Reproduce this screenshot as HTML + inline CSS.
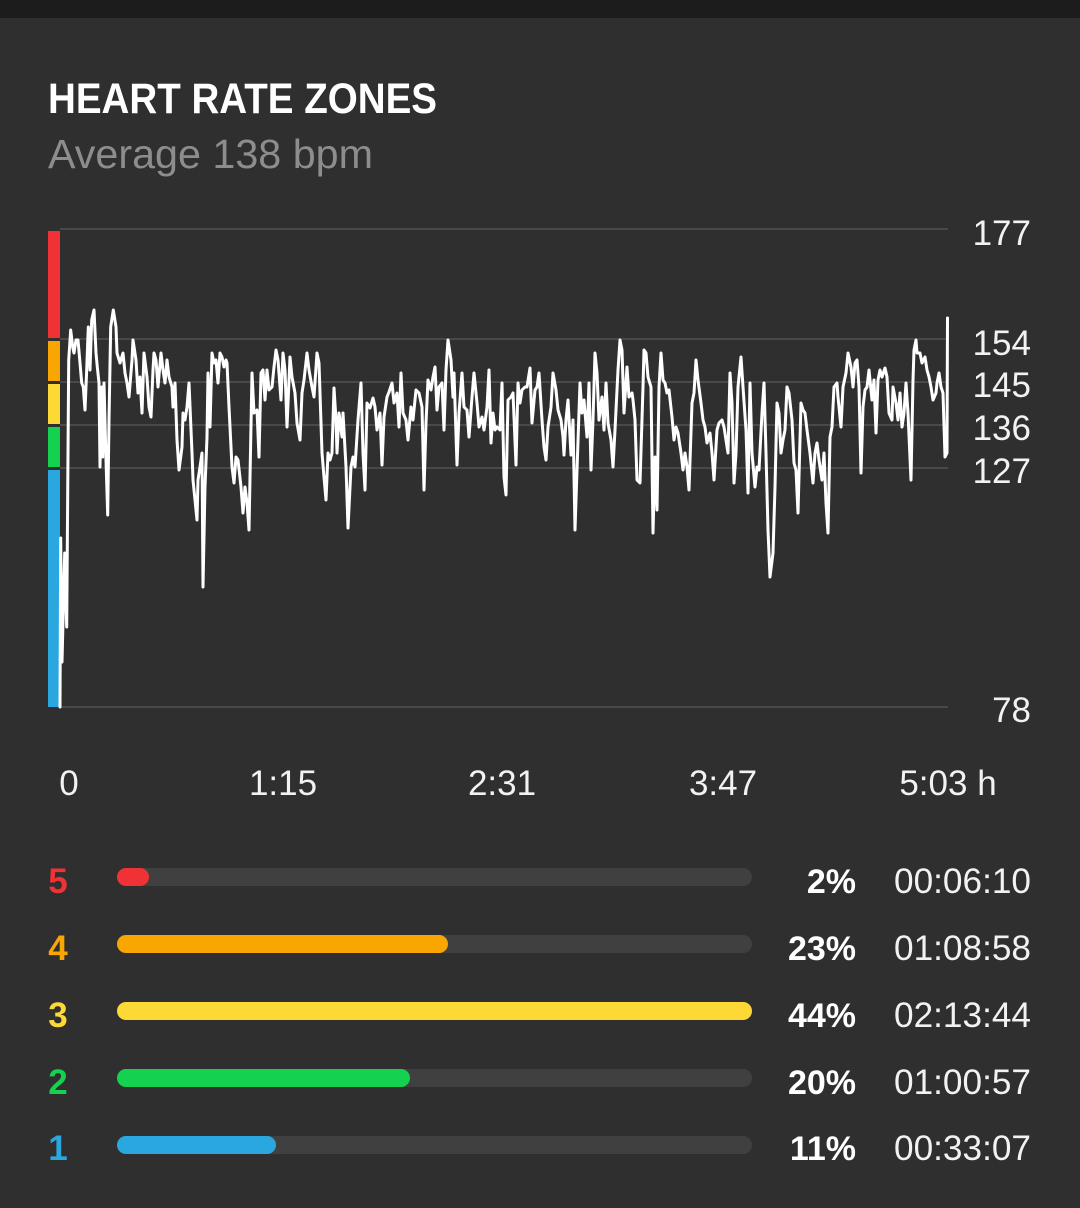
<!DOCTYPE html>
<html>
<head>
<meta charset="utf-8">
<style>
  html, body { margin: 0; padding: 0; background: #2f2f2f; }
  body { width: 1080px; height: 1208px; overflow: hidden; }
  svg { display: block; }
  text { font-family: "Liberation Sans", Arial, sans-serif; }
</style>
</head>
<body>
<svg width="1080" height="1208" viewBox="0 0 1080 1208" xmlns="http://www.w3.org/2000/svg">
  <rect x="0" y="0" width="1080" height="1208" fill="#2f2f2f"/>
  <rect x="0" y="0" width="1080" height="18" fill="#1c1c1c"/>

  <!-- Title -->
  <text x="48" y="113" font-size="43" font-weight="bold" fill="#ffffff" textLength="389" lengthAdjust="spacingAndGlyphs">HEART RATE ZONES</text>
  <text x="48" y="168" font-size="41" fill="#8d8d8d" textLength="325" lengthAdjust="spacingAndGlyphs">Average 138 bpm</text>

  <!-- Grid lines -->
  <g stroke="#494949" stroke-width="2">
    <line x1="60" y1="229" x2="948" y2="229"/>
    <line x1="60" y1="339" x2="948" y2="339"/>
    <line x1="60" y1="382" x2="948" y2="382"/>
    <line x1="60" y1="425" x2="948" y2="425"/>
    <line x1="60" y1="468" x2="948" y2="468"/>
    <line x1="60" y1="707" x2="948" y2="707"/>
  </g>

  <!-- Zone color bar -->
  <rect x="48" y="231" width="12" height="107" fill="#f03236"/>
  <rect x="48" y="341" width="12" height="40" fill="#f9a603"/>
  <rect x="48" y="384" width="12" height="40" fill="#fcd934"/>
  <rect x="48" y="427" width="12" height="40" fill="#14d250"/>
  <rect x="48" y="470" width="12" height="237" fill="#2aa7df"/>

  <!-- Y labels -->
  <g font-size="35" fill="#f2f2f2" text-anchor="end">
    <text x="1031" y="245">177</text>
    <text x="1031" y="355">154</text>
    <text x="1031" y="397">145</text>
    <text x="1031" y="440">136</text>
    <text x="1031" y="483">127</text>
    <text x="1031" y="722">78</text>
  </g>

  <!-- HR trace -->
  <polyline fill="none" stroke="#ffffff" stroke-width="3" stroke-linejoin="round" stroke-linecap="round"
    points="60,707 60.7,538 62,662 64.7,553 66.7,627 68.7,360 70.7,330 72.7,347 74,353 76,340 78,340 80,363 81.7,383 83.3,387 85,410 86.7,370 88.3,327 90,370 91.7,320 94,310 96,353 97.3,367 99,383 100,467 101.7,387 102.7,457 104,383 106,460 107.7,515 109,420 110.7,327 113.3,310 116,327 117,353 120,363 123,353 125,373 127,383 129,397 132,360 133,340 136,360 138,393 140,377 142,413 144,353 147,377 149,407 151,417 153,370 154,353 156,360 158,387 161,353 163,370 165,383 167,360 169,377 172,387 173,407 175,383 177,440 179,470 182,447 183,413 185,420 187,407 189,383 192,453 193,480 195,500 197,520 198,480 200,467 202,453 203,587 205,487 207,437 208,373 210,427 212,353 214,363 216,360 218,383 220,353 222,357 224,367 226,360 227,363 229,407 232,467 234,483 236,457 238,460 241,487 243,513 245,487 247,503 249,530 252,373 254,413 257,410 259,457 261,373 263,370 265,400 267,370 269,390 272,387 274,367 276,350 278,360 281,400 283,353 285,370 287,427 290,357 292,377 295,393 297,423 300,440 302,393 304,380 307,353 309,370 312,387 314,397 317,353 319,363 322,453 324,477 326,500 328,453 330,460 332,453 334,388 336,420 337,453 339,413 342,437 343,413 346,467 348,528 351,467 353,457 355,467 358,420 361,383 363,453 365,490 367,403 370,408 373,398 375,407 377,430 380,413 382,465 384,417 387,397 389,392 392,383 394,403 397,393 399,427 401,373 403,413 406,420 408,440 411,407 413,420 416,390 419,393 422,407 424,490 426,423 428,380 431,390 433,377 435,367 437,410 439,387 442,383 444,430 446,370 448,340 451,360 453,397 454,373 457,465 459,413 462,373 464,407 467,410 469,437 472,397 474,373 477,403 479,427 482,417 484,430 487,407 489,370 491,443 493,413 495,430 497,427 500,430 502,383 504,477 506,495 508,400 511,397 513,393 516,465 518,383 520,403 522,390 525,387 527,387 530,368 532,423 535,390 537,387 539,373 542,420 544,447 546,460 548,427 551,407 553,373 556,390 558,410 561,420 563,437 564,455 566,420 568,400 571,455 573,420 575,530 577,470 580,383 582,413 584,400 587,437 589,383 591,470 593,420 595,353 597,373 599,420 602,397 604,430 606,383 608,423 611,440 613,467 615,430 618,370 620,340 622,350 624,413 627,367 629,397 632,393 633,400 635,420 637,480 640,483 643,387 644,350 646,353 648,377 651,387 653,533 655,457 657,510 659,387 661,353 663,380 665,383 667,393 669,390 672,417 674,440 676,427 678,433 681,453 683,470 685,453 687,467 689,490 692,403 694,393 696,360 698,380 701,403 703,420 705,427 707,443 710,433 712,453 714,480 717,430 719,423 722,420 724,427 726,440 728,453 730,373 732,403 734,483 736,453 738,387 741,357 743,387 746,430 748,493 750,383 752,453 755,487 757,467 759,470 762,413 764,383 766,453 768,530 770,577 773,553 775,487 777,403 779,413 781,453 783,440 785,430 787,387 789,393 792,420 794,463 796,470 798,513 801,403 803,410 805,413 807,430 810,453 813,483 815,453 817,443 819,460 822,480 824,453 826,503 828,533 830,437 832,427 834,387 837,383 838,397 841,427 843,387 846,373 848,353 851,367 853,387 855,363 857,360 859,387 861,473 863,407 865,390 867,387 869,370 872,400 874,380 876,433 878,380 880,370 882,377 885,368 887,377 889,413 892,420 893,387 896,403 898,420 900,393 902,427 904,413 906,383 908,413 911,480 913,380 914,350 916,340 917,353 920,353 922,363 925,357 927,370 929,377 931,387 933,400 936,393 937,383 939,373 941,387 943,393 945,457 947,453 947.5,318"/>

  <!-- X labels -->
  <g font-size="35" fill="#f2f2f2" text-anchor="middle">
    <text x="69" y="795">0</text>
    <text x="283" y="795">1:15</text>
    <text x="502" y="795">2:31</text>
    <text x="723" y="795">3:47</text>
    <text x="948" y="795">5:03 h</text>
  </g>

  <!-- Zone rows -->
  <g font-size="35" font-weight="bold" text-anchor="middle">
    <text x="58" y="893" fill="#f03236">5</text>
    <text x="58" y="960" fill="#f9a603">4</text>
    <text x="58" y="1027" fill="#fcd934">3</text>
    <text x="58" y="1094" fill="#14d250">2</text>
    <text x="58" y="1160" fill="#2aa7df">1</text>
  </g>

  <g fill="#404040">
    <rect x="117" y="868" width="635" height="18" rx="9"/>
    <rect x="117" y="935" width="635" height="18" rx="9"/>
    <rect x="117" y="1002" width="635" height="18" rx="9"/>
    <rect x="117" y="1069" width="635" height="18" rx="9"/>
    <rect x="117" y="1136" width="635" height="18" rx="9"/>
  </g>
  <rect x="117" y="868" width="32" height="18" rx="9" fill="#f03236"/>
  <rect x="117" y="935" width="331" height="18" rx="9" fill="#f9a603"/>
  <rect x="117" y="1002" width="635" height="18" rx="9" fill="#fcd934"/>
  <rect x="117" y="1069" width="293" height="18" rx="9" fill="#14d250"/>
  <rect x="117" y="1136" width="159" height="18" rx="9" fill="#2aa7df"/>

  <g font-size="34" font-weight="bold" fill="#ffffff" text-anchor="end">
    <text x="856" y="893">2%</text>
    <text x="856" y="960">23%</text>
    <text x="856" y="1027">44%</text>
    <text x="856" y="1094">20%</text>
    <text x="856" y="1160">11%</text>
  </g>
  <g font-size="35" fill="#f2f2f2">
    <text x="894" y="893" textLength="137" lengthAdjust="spacingAndGlyphs">00:06:10</text>
    <text x="894" y="960" textLength="137" lengthAdjust="spacingAndGlyphs">01:08:58</text>
    <text x="894" y="1027" textLength="137" lengthAdjust="spacingAndGlyphs">02:13:44</text>
    <text x="894" y="1094" textLength="137" lengthAdjust="spacingAndGlyphs">01:00:57</text>
    <text x="894" y="1160" textLength="137" lengthAdjust="spacingAndGlyphs">00:33:07</text>
  </g>
</svg>
</body>
</html>
